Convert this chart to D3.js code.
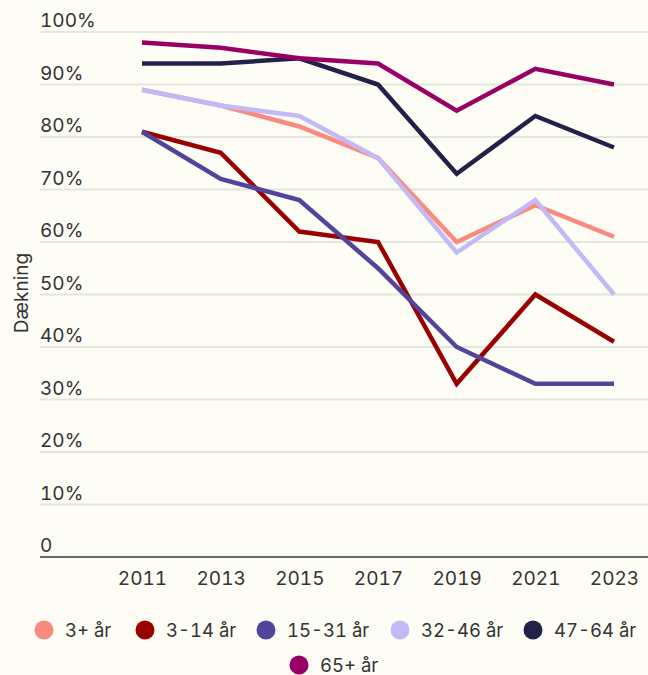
<!DOCTYPE html>
<html><head><meta charset="utf-8">
<script src="https://cdn.jsdelivr.net/npm/d3@7"></script>
<style>
html,body{margin:0;padding:0;background:#fdfdf5;}
svg{display:block;font-family:Inter,"Noto Sans",sans-serif;font-variant-numeric:tabular-nums;font-feature-settings:"tnum";}
</style></head>
<body><svg id="c" width="648" height="675"></svg>
<script>
const years = ["2011","2013","2015","2017","2019","2021","2023"];
const seriesNames = ["3+ år","3-14 år","15-31 år","32-46 år","47-64 år","65+ år"];
const colors = ["#fa8a7e","#990000","#51449a","#c3b9f6","#23204a","#990066"];
const s3plus = [89,86,82,76,60,67,61];
const s3to14 = [81,77,62,60,33,50,41];
const s15to31 = [81,72,68,55,40,33,33];
const s32to46 = [89,86,84,76,58,68,50];
const s47to64 = [94,94,95,90,73,84,78];
const s65plus = [98,97,95,94,85,93,90];
const yTicks = [0,10,20,30,40,50,60,70,80,90,100];
const yTitle = "Dækning";

const FONT = "Inter, 'Noto Sans', sans-serif";
const values = [s3plus,s3to14,s15to31,s32to46,s47to64,s65plus];
const svg = d3.select("#c");
const mLeft = 40, mRight = 648, mTop = 32, mBottom = 557;
const x = d3.scalePoint().domain(years).range([142,614]);
const y = d3.scaleLinear().domain([0,100]).range([mBottom,mTop]);

// grid
const g = svg.append("g");
g.selectAll("line.grid").data(yTicks.filter(d=>d>0)).join("line")
  .attr("x1",mLeft).attr("x2",mRight).attr("y1",d=>y(d)).attr("y2",d=>y(d))
  .attr("stroke","#e5e5dc").attr("stroke-width",2);
g.selectAll("text.yl").data(yTicks).join("text")
  .attr("x",mLeft).attr("y",d=>y(d)-5)
  .attr("font-size",19).attr("fill","#333")
  .text(d=>d===0?"0":d+"%");
g.append("line").attr("x1",mLeft).attr("x2",mRight).attr("y1",mBottom).attr("y2",mBottom)
  .attr("stroke","#666").attr("stroke-width",2);

// x axis
const xAxis = d3.axisBottom(x).tickSize(0);
const xg = svg.append("g").attr("transform",`translate(0,${mBottom})`).call(xAxis)
  .attr("font-family",FONT).attr("font-size",19);
xg.select(".domain").remove();
xg.selectAll("text").attr("y",28).attr("dy",null).attr("fill","#333");

// y title
svg.append("text").attr("transform",`translate(28,293) rotate(-90)`)
  .attr("text-anchor","middle").attr("font-size",19).attr("fill","#333").text(yTitle);

// lines
const line = d3.line().x((d,i)=>x(years[i])).y(d=>y(d));
svg.append("g").selectAll("path").data(values).join("path")
  .attr("d",line).attr("fill","none")
  .attr("stroke",(d,i)=>colors[i]).attr("stroke-width",4.5)
  .attr("stroke-linejoin","miter");

// legend
const legendPos = [[44,630],[145,630],[266,630],[400,630],[533,630],[299,665]];
const lg = svg.append("g").selectAll("g").data(seriesNames).join("g")
  .attr("transform",(d,i)=>`translate(${legendPos[i][0]},${legendPos[i][1]})`);
lg.append("circle").attr("r",9.5).attr("fill",(d,i)=>colors[i]);
lg.append("text").attr("x",21).attr("dy","0.36em").attr("font-size",18.5).attr("fill","#333").text(d=>d);
</script></body></html>
